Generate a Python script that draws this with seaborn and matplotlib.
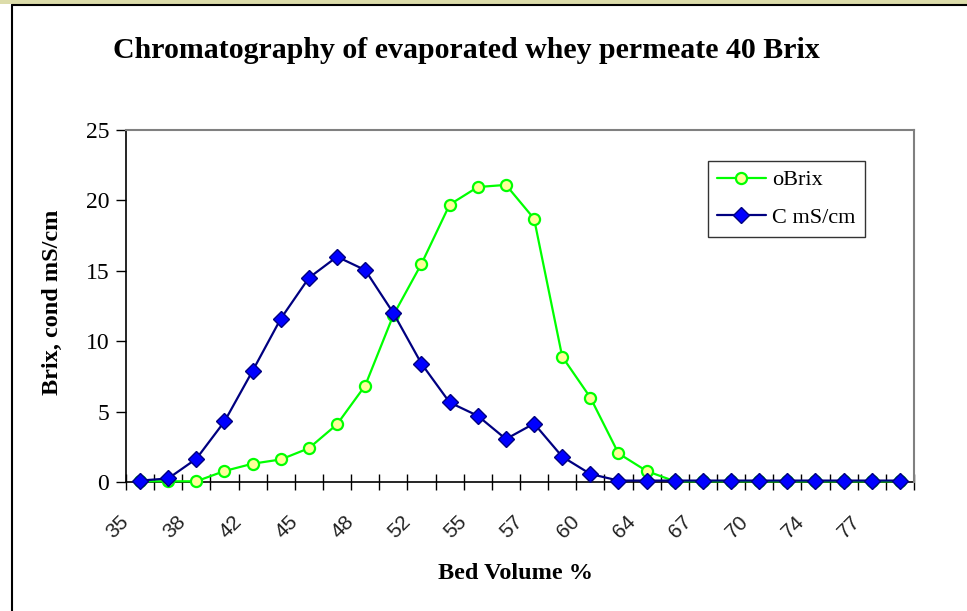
import matplotlib
matplotlib.use("Agg")
import matplotlib.pyplot as plt
import matplotlib.transforms as mtransforms
from matplotlib.patches import Rectangle
import seaborn as sns
import pandas as pd
import numpy as np

# ---- data ----
bed_volume = [35, 37, 38, 40, 42, 43, 45, 47, 48, 50, 52, 53, 55, 56,
              57, 59, 60, 62, 64, 65, 67, 69, 70, 72, 74, 75, 77, 79]
obrix = [0.05, 0.05, 0.05, 0.78, 1.3, 1.6, 2.4, 4.1, 6.85, 11.85, 15.5, 19.7,
         20.95, 21.1, 18.7, 8.9, 6.0, 2.03, 0.78, 0.05, 0.05, 0.05, 0.05, 0.05,
         0.05, 0.05, 0.05, 0.05]
cond = [0.1, 0.25, 1.65, 4.3, 7.9, 11.6, 14.5, 16.0, 15.05, 12.0, 8.4, 5.65,
        4.7, 3.05, 4.15, 1.8, 0.57, 0.1, 0.1, 0.1, 0.1, 0.1, 0.1, 0.1, 0.1,
        0.1, 0.1, 0.1]
series_names = ["oBrix", "C mS/cm"]
title = "Chromatography of evaporated whey permeate 40 Brix"
ylabel = "Brix, cond mS/cm"
xlabel = "Bed Volume %"

idx = list(range(len(bed_volume)))
df = pd.DataFrame({"idx": idx * 2,
                   "value": obrix + cond,
                   "series": [series_names[0]] * len(idx) + [series_names[1]] * len(idx)})

sns.set_style("white")
plt.rcParams["font.family"] = ["Liberation Serif", "DejaVu Serif"]
plt.rcParams["text.color"] = "black"
plt.rcParams["axes.labelcolor"] = "black"

W, H = 967, 611
fig = plt.figure(figsize=(W / 100, H / 100), dpi=100)
fig.patch.set_facecolor("white")

# outer frame & top strip
fig.add_artist(Rectangle((0, 1 - 4 / H), 1, 4 / H, transform=fig.transFigure,
                         facecolor="#dcdcaa", edgecolor="none", zorder=0))
fig.add_artist(plt.Line2D([12 / W, 12 / W], [0, 1 - 5 / H], transform=fig.transFigure,
                          color="black", lw=1.5))
fig.add_artist(plt.Line2D([12 / W, 1], [1 - 5 / H, 1 - 5 / H], transform=fig.transFigure,
                          color="black", lw=1.5))

ax = fig.add_axes([126 / W, 1 - 482 / H, 788 / W, 352 / H])

sns.lineplot(data=df[df.series == series_names[0]], x="idx", y="value", ax=ax,
             color="#00ff00", lw=1.6, marker="o", markersize=8,
             markerfacecolor="#ffff99", markeredgecolor="#00ff00", markeredgewidth=1.6,
             label=series_names[0], zorder=3, clip_on=False)
sns.lineplot(data=df[df.series == series_names[1]], x="idx", y="value", ax=ax,
             color="#000080", lw=1.6, marker="D", markersize=8,
             markerfacecolor="#0000ff", markeredgecolor="#000080", markeredgewidth=1.0,
             label=series_names[1], zorder=4, clip_on=False)

ax.set_xlim(-0.5, len(idx) - 0.5)
ax.set_ylim(0, 25)
ax.set_yticks([0, 5, 10, 15, 20, 25])
ax.tick_params(axis="y", direction="out", length=7, width=1, labelsize=17, pad=5,
               left=True, colors="black", labelcolor="black")
for lab in ax.get_yticklabels():
    lab.set_fontfamily(["Liberation Serif"])

# major ticks at category boundaries, labels on minor ticks at centers
ax.set_xticks(np.arange(-0.5, len(idx), 1.0))
ax.set_xticklabels([])
ax.tick_params(axis="x", which="major", direction="inout", length=12, width=1,
               bottom=True, colors="black")
ax.set_xticks(idx[::2], minor=True)
ax.set_xticklabels([str(v) for v in bed_volume[::2]], minor=True)
ax.tick_params(axis="x", which="minor", length=0, labelsize=15, pad=0,
               labelcolor="#222222")
offset = mtransforms.ScaledTranslation(-14 / 100, -37 / 100, fig.dpi_scale_trans)
for lab in ax.get_xticklabels(minor=True):
    lab.set_rotation(45)
    lab.set_rotation_mode("anchor")
    lab.set_ha("right")
    lab.set_va("center")
    lab.set_fontfamily(["Liberation Sans"])
    lab.set_transform(lab.get_transform() + offset)

for s in ["top", "right"]:
    ax.spines[s].set_color("#808080")
    ax.spines[s].set_linewidth(1.5)
for s in ["left", "bottom"]:
    ax.spines[s].set_color("black")
    ax.spines[s].set_linewidth(1.2)
ax.spines["bottom"].set_zorder(2)

ax.set_xlabel(xlabel, fontsize=17.5, fontweight="bold", labelpad=0)
ax.xaxis.set_label_coords((516 - 126) / 788, -(563 - 482) / 352)
ax.set_ylabel(ylabel, fontsize=17.5, fontweight="bold")
ax.yaxis.set_label_coords(-(126 - 63) / 788, (482 - 302) / 352)

fig.text(466 / W, 1 - 51 / H, title, ha="center", va="center",
         fontsize=21.5, fontweight="bold", color="black")

leg = ax.legend(loc="upper left", bbox_to_anchor=((708 - 126) / 788, (482 - 161) / 352),
                borderaxespad=0, frameon=True, fancybox=False, fontsize=16,
                borderpad=0.4, handlelength=2.2, labelspacing=0.75, handletextpad=0.3)
leg.get_frame().set_edgecolor("black")
leg.get_frame().set_linewidth(1.0)
for t in leg.get_texts():
    t.set_color("black")

fig.savefig("out.png", dpi=100, facecolor="white")
